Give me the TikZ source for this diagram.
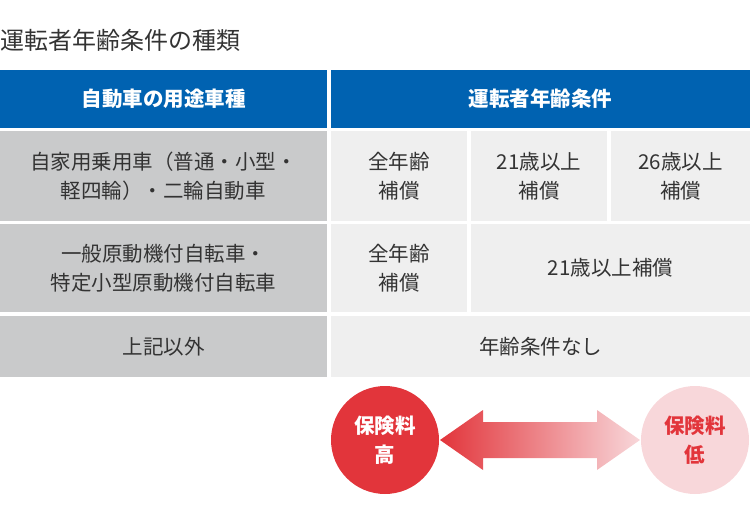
\documentclass[tikz,border=0pt]{standalone}
\usepackage{fontspec}
\setmainfont{Noto Sans CJK JP}
\definecolor{hdr}{HTML}{0062B1}
\definecolor{gcell}{HTML}{C9CACB}
\definecolor{lcell}{HTML}{EFEFEF}
\definecolor{redc}{HTML}{E2353B}
\definecolor{pinkc}{HTML}{F8D7DA}
\definecolor{txt}{HTML}{333333}
\begin{document}
\begin{tikzpicture}[x=1pt,y=-1pt,
  cell/.style={inner sep=0pt,align=center,font=\fontsize{20.5}{29}\selectfont,text=txt},
  hcell/.style={cell,text=white,font=\bfseries\fontsize{20.5}{29}\selectfont},
  circ/.style={circle,minimum size=108pt,inner sep=0pt,align=center,font=\bfseries\fontsize{20.5}{29}\selectfont}]
\useasboundingbox (0,0) rectangle (750,516);
\node[anchor=west,cell,font=\fontsize{24}{28}\selectfont] (title) at (0,40) {運転者年齢条件の種類};
\fill[hdr] (0,70) rectangle (327,128);
\fill[hdr] (331,70) rectangle (750,128);
\node[hcell] (h1) at (163.5,99) {自動車の用途車種};
\node[hcell] (h2) at (540.5,99) {運転者年齢条件};
\fill[gcell] (0,131) rectangle (327,221);
\fill[lcell] (331,131) rectangle (467,221);
\fill[lcell] (471,131) rectangle (607,221);
\fill[lcell] (611,131) rectangle (750,221);
\node[cell] (r1) at (163.5,176) {自家用乗用車（普通・小型・\\軽四輪）・二輪自動車};
\node[cell] (r1a) at (399,176) {全年齢\\補償};
\node[cell] (r1b) at (539,176) {21歳以上\\補償};
\node[cell] (r1c) at (680.5,176) {26歳以上\\補償};
\fill[gcell] (0,224) rectangle (327,312);
\fill[lcell] (331,224) rectangle (467,312);
\fill[lcell] (471,224) rectangle (750,312);
\node[cell] (r2) at (163.5,268) {一般原動機付自転車・\\特定小型原動機付自転車};
\node[cell] (r2a) at (399,268) {全年齢\\補償};
\node[cell] (r2b) at (610.5,268) {21歳以上補償};
\fill[gcell] (0,316) rectangle (327,377);
\fill[lcell] (331,316) rectangle (750,377);
\node[cell] (r3) at (163.5,346.5) {上記以外};
\node[cell] (r3a) at (540.5,346.5) {年齢条件なし};
\shade[left color=redc,right color=pinkc,shading angle=90]
  (440,440) -- (483,410) -- (483,422) -- (597,422) -- (597,410) -- (640,440)
  -- (597,470) -- (597,458) -- (483,458) -- (483,470) -- cycle;
\node[circ,fill=redc,text=white] (hi) at (385,440) {保険料\\高};
\node[circ,fill=pinkc,text=redc] (lo) at (695,440) {保険料\\低};
\end{tikzpicture}
\end{document}
